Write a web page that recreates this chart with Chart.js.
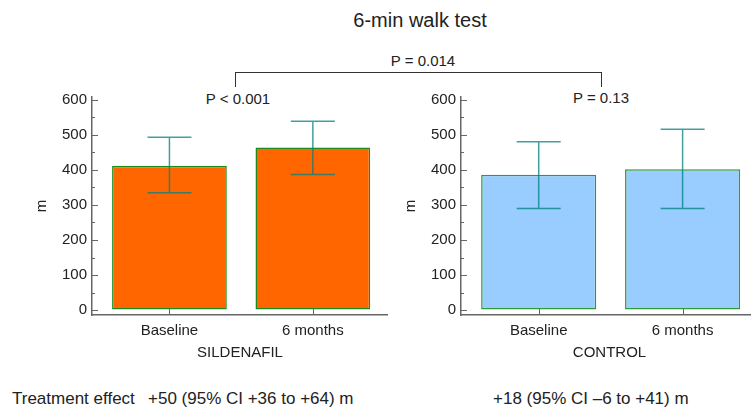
<!DOCTYPE html>
<html>
<head>
<meta charset="utf-8">
<script src="https://cdn.jsdelivr.net/npm/chart.js@4.4.0/dist/chart.umd.min.js"></script>
<style>
  body { margin: 0; background: #fff; overflow: hidden; }
  #wrap { position: relative; width: 751px; height: 408px; overflow: hidden; font-family: "Liberation Sans", Arial, sans-serif; color: #222; }
  .txt { position: absolute; white-space: nowrap; line-height: 1; }
  .ctr { transform: translate(-50%, -50%); }
  .line { position: absolute; background: #333; }
  canvas { position: absolute; }
</style>
</head>
<body>
<div id="wrap">
  <div class="txt ctr" style="left:420px; top:20px; font-size:20px;">6-min walk test</div>
  <div class="txt ctr" style="left:423px; top:60px; font-size:15px;">P = 0.014</div>
  <div class="line" style="left:235px; top:72px; width:367px; height:1px;"></div>
  <div class="line" style="left:235px; top:72px; width:1px; height:15px;"></div>
  <div class="line" style="left:601px; top:72px; width:1px; height:15px;"></div>
  <div class="txt ctr" style="left:238px; top:98px; font-size:15px;">P &lt; 0.001</div>
  <div class="txt ctr" style="left:601px; top:97px; font-size:15px;">P = 0.13</div>
  <canvas id="sildenafilChart" width="358" height="284" style="left:30px; top:83px;"></canvas>
  <canvas id="controlChart" width="359" height="284" style="left:399px; top:83px;"></canvas>
  <div class="txt" style="left:12px; top:390px; font-size:17px;">Treatment effect</div>
  <div class="txt" style="left:148px; top:390px; font-size:17px;">+50 (95% CI +36 to +64) m</div>
  <div class="txt" style="left:493px; top:390px; font-size:17px;">+18 (95% CI &ndash;6 to +41) m</div>
</div>
<script>
const categories = ['Baseline', '6 months'];

const sildenafilMeans = [412, 464];
const sildenafilLow = [335, 387];
const sildenafilHigh = [493, 539];

const controlMeans = [386, 402];
const controlLow = [290, 290];
const controlHigh = [480, 516];

const yTicks = [0, 100, 200, 300, 400, 500, 600];
const yMinorTicks = [50, 150, 250, 350, 450, 550];

const FONT = '"Liberation Sans", Arial, sans-serif';
const AXIS_COLOR = '#666';

// error bars + inward tick marks
const errorBarPlugin = {
    id: 'errorBars',
    afterDatasetsDraw(chart, args, opts) {
        const ctx = chart.ctx;
        const yScale = chart.scales.y;
        const xScale = chart.scales.x;
        const meta = chart.getDatasetMeta(0);
        ctx.save();
        ctx.strokeStyle = 'rgba(0, 128, 128, 0.75)';
        ctx.lineWidth = 1.5;
        meta.data.forEach((bar, i) => {
            const x = bar.x;
            const yLo = yScale.getPixelForValue(opts.low[i]);
            const yHi = yScale.getPixelForValue(opts.high[i]);
            ctx.beginPath();
            ctx.moveTo(x, yLo); ctx.lineTo(x, yHi);
            ctx.moveTo(x - 22, yLo); ctx.lineTo(x + 22, yLo);
            ctx.moveTo(x - 22, yHi); ctx.lineTo(x + 22, yHi);
            ctx.stroke();
        });

        ctx.strokeStyle = AXIS_COLOR;
        ctx.lineWidth = 1;
        const left = chart.chartArea.left;
        const bottom = chart.chartArea.bottom;
        yTicks.forEach(v => {
            const y = Math.round(yScale.getPixelForValue(v)) + 0.5;
            ctx.beginPath(); ctx.moveTo(left, y); ctx.lineTo(left + 6, y); ctx.stroke();
        });
        yMinorTicks.forEach(v => {
            const y = Math.round(yScale.getPixelForValue(v)) + 0.5;
            ctx.beginPath(); ctx.moveTo(left, y); ctx.lineTo(left + 3, y); ctx.stroke();
        });
        categories.forEach((c, i) => {
            const x = Math.round(xScale.getPixelForValue(i)) + 0.5;
            ctx.beginPath(); ctx.moveTo(x, bottom); ctx.lineTo(x, bottom - 6); ctx.stroke();
        });
        ctx.restore();
    }
};

function renderGroupChart(canvasId, groupName, means, low, high, fillColor, borderColor) {
    return new Chart(document.getElementById(canvasId), {
        type: 'bar',
        data: {
            datasets: [{
                data: means.map((v, i) => ({ x: i, y: v })),
                backgroundColor: fillColor,
                borderColor: borderColor,
                borderWidth: 1.5,
                borderSkipped: false,
                categoryPercentage: 1,
                barPercentage: 0.8
            }]
        },
        options: {
            responsive: false,
            animation: false,
            events: [],
            layout: { padding: { top: 5, right: 0, left: 0, bottom: 0 } },
            plugins: {
                legend: { display: false },
                tooltip: { enabled: false },
                errorBars: { low: low, high: high }
            },
            scales: {
                x: {
                    type: 'linear',
                    offset: false,
                    min: -0.54,
                    max: 1.524,
                    grid: { drawOnChartArea: false, drawTicks: false },
                    border: { color: AXIS_COLOR, width: 1.5 },
                    afterBuildTicks(scale) { scale.ticks = categories.map((c, i) => ({ value: i })); },
                    ticks: {
                        color: '#222', padding: 7, font: { family: FONT, size: 15 },
                        callback: v => categories[v]
                    },
                    title: {
                        display: true, text: groupName, color: '#222',
                        font: { family: FONT, size: 15 }, padding: { top: 0, bottom: 5 }
                    },
                    afterFit(scale) { scale.height = 52; }
                },
                y: {
                    min: -14,
                    max: 608,
                    grid: { drawOnChartArea: false, drawTicks: false },
                    border: { color: AXIS_COLOR, width: 1.5 },
                    ticks: { color: '#222', padding: 5, font: { family: FONT, size: 15 } },
                    afterBuildTicks(scale) { scale.ticks = yTicks.map(v => ({ value: v })); },
                    title: {
                        display: true, text: 'm', color: '#222',
                        font: { family: FONT, size: 15 }, padding: { top: 3, bottom: 0 }
                    },
                    afterFit(scale) { scale.width = 62; }
                }
            }
        },
        plugins: [errorBarPlugin]
    });
}

renderGroupChart('sildenafilChart', 'SILDENAFIL', sildenafilMeans, sildenafilLow, sildenafilHigh, '#ff6600', '#1f8a1f');
renderGroupChart('controlChart', 'CONTROL', controlMeans, controlLow, controlHigh, '#99ccff', '#2e9a3a');
</script>
</body>
</html>
